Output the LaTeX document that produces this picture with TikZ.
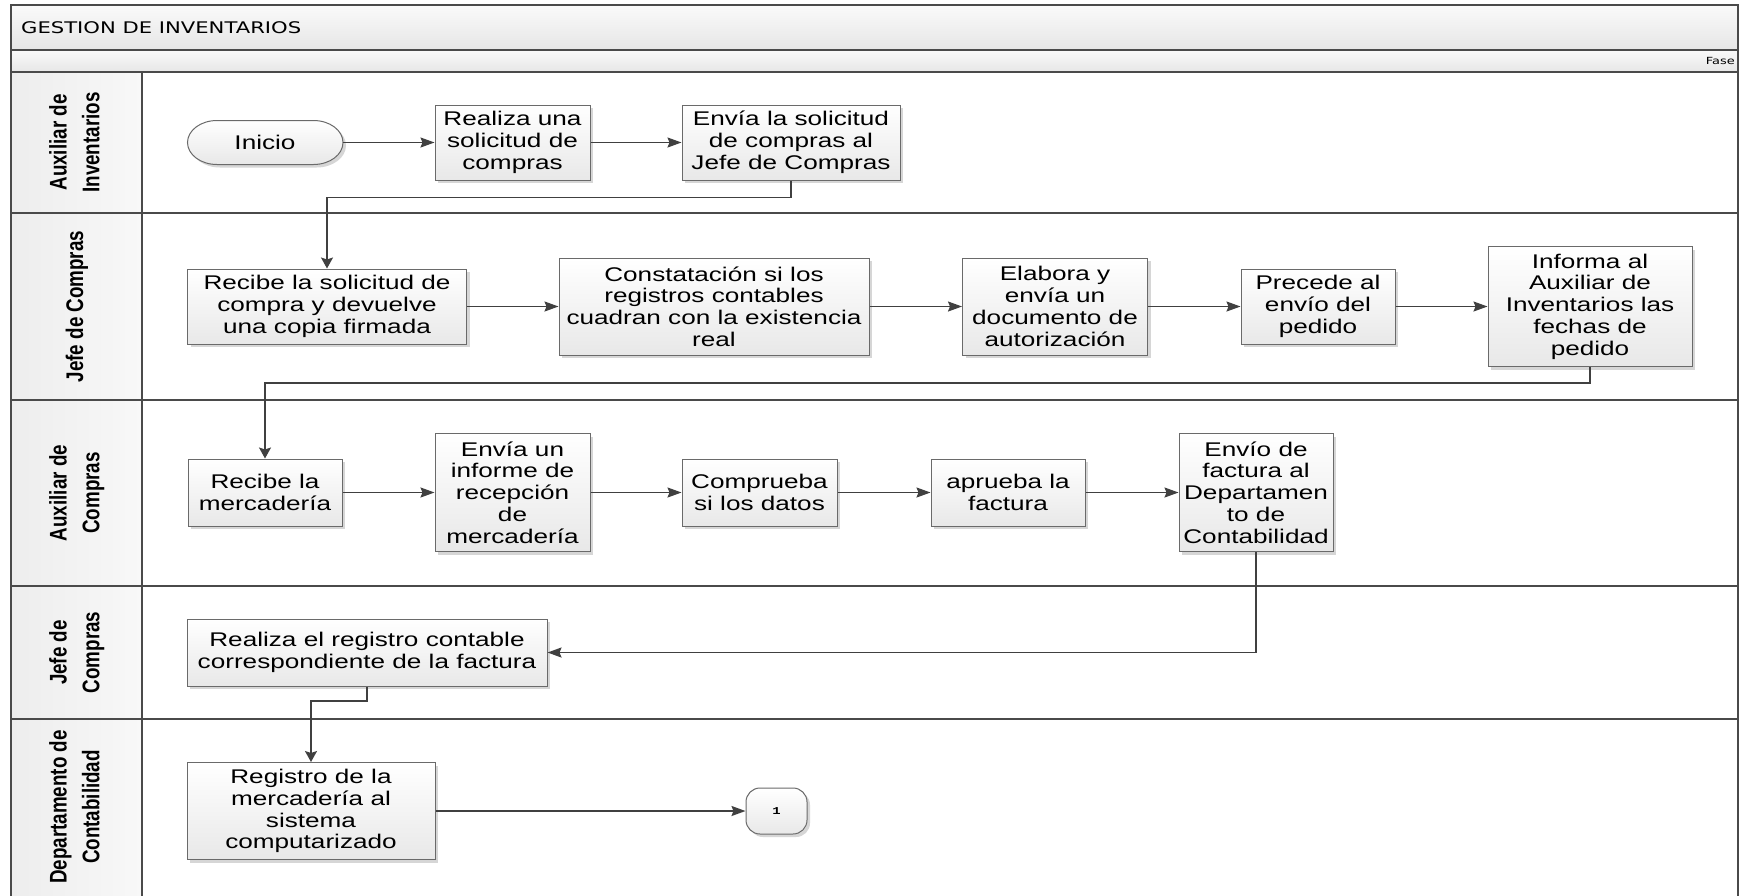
\documentclass[tikz,border=0pt]{standalone}
\usepackage{fontspec}
\usepackage{graphicx}
\setmainfont{Liberation Sans}[FakeStretch=1.32]
\newfontfamily\lanefont{Liberation Sans}
\newfontfamily\titlefont{DejaVu Sans}[FakeStretch=1.32]
\newfontfamily\onefont{Liberation Mono}[FakeStretch=1.32]
\usetikzlibrary{arrows.meta,shadows,calc}
\definecolor{lineC}{HTML}{404040}
\definecolor{frameC}{HTML}{4A4A4A}
\definecolor{boxC}{HTML}{6A6A6A}
\definecolor{barTop}{HTML}{FAFAFA}
\definecolor{barBot}{HTML}{E6E6E6}
\definecolor{boxBot}{HTML}{E8E8E8}
\definecolor{laneL}{HTML}{EDEDED}
\definecolor{laneR}{HTML}{F8F8F8}
\definecolor{shadowC}{HTML}{D6D6D6}
\newcommand{\lanelabel}[1]{\scalebox{1}[1.28]{\lanefont\bfseries\fontsize{18.8}{25.5}\selectfont\begin{tabular}{@{}c@{}}#1\end{tabular}}}
\begin{document}
\begin{tikzpicture}[x=1pt,y=-1pt,
  shapefill/.style={draw=boxC, line width=1pt, top color=white, bottom color=boxBot,
    drop shadow={shadow xshift=3pt, shadow yshift=-3pt, fill=shadowC, opacity=1}},
  box/.style={shapefill, align=center, inner sep=2pt, text=black,
    font=\fontsize{19.8}{21.8}\selectfont},
  txt/.style={align=center, inner sep=0pt, text=black, font=\fontsize{19.8}{21.8}\selectfont},
  flow/.style={draw=lineC, line width=1.6pt},
  harr/.style={flow, -{Stealth[length=14pt,width=10pt,inset=2pt]}},
  varr/.style={flow, -{Stealth[length=11pt,width=12pt,inset=2pt]}},
  lanelbl/.style={rotate=90, inner sep=0pt, text=black},
  frame/.style={draw=frameC, line width=1.6pt}
]
\useasboundingbox (0,0) rectangle (1740,895);
\clip (0,0) rectangle (1740,895);

% ---------- pool frame ----------
\shade[top color=barTop, bottom color=barBot] (11,5) rectangle (1738,50);
\shade[top color=barTop, bottom color=barBot] (11,50) rectangle (1738,72);
\fill[white] (142,72) rectangle (1738,900);
\shade[left color=laneL, right color=laneR] (11,72) rectangle (142,900);
\draw[frame] (11,5) rectangle (1738,900);
\draw[frame] (11,50) -- (1738,50);
\draw[frame] (11,72) -- (1738,72);
\draw[frame] (142,72) -- (142,900);
\foreach \yy in {213,400,586,719} \draw[frame] (11,\yy) -- (1738,\yy);

\node[anchor=west, inner sep=0pt, text=black, font=\titlefont\fontsize{16}{19}\selectfont] (title) at (21,28) {GESTION DE INVENTARIOS};
\node[anchor=east, inner sep=0pt, text=black, font=\titlefont\fontsize{9.8}{11}\selectfont] (fase) at (1735,61) {Fase};

% ---------- lane labels ----------
\node[lanelbl] (lane1) at (76.5,142.5) {\lanelabel{Auxiliar de\\Inventarios}};
\node[lanelbl] (lane2) at (76.5,306.5) {\lanelabel{Jefe de Compras}};
\node[lanelbl] (lane3) at (76.5,493) {\lanelabel{Auxiliar de\\Compras}};
\node[lanelbl] (lane4) at (76.5,652.5) {\lanelabel{Jefe de\\Compras}};
\node[lanelbl] (lane5) at (76.5,807) {\lanelabel{Departamento de\\Contabilidad}};

% ---------- terminator shape ----------
\path[shapefill] (217,120.5) -- (313.5,120.5)
   arc[start angle=-90, end angle=90, x radius=29.5, y radius=22]
   -- (217,164.5)
   arc[start angle=90, end angle=270, x radius=29.5, y radius=22] -- cycle;
\node[txt, minimum width=155pt, minimum height=44pt] (inicio) at (265,142.5) {Inicio};

% ---------- lane 1 ----------
\node[box, minimum width=155pt, minimum height=75pt] (realiza) at (512.5,142.5) {Realiza una\\solicitud de\\compras};
\node[box, minimum width=218pt, minimum height=75pt] (envia) at (791,142.5) {Envía la solicitud\\de compras al\\Jefe de Compras};

% ---------- lane 2 ----------
\node[box, minimum width=279pt, minimum height=75pt] (recibe) at (327,306.5) {Recibe la solicitud de\\compra y devuelve\\una copia firmada};
\node[box, minimum width=310pt, minimum height=97pt] (constat) at (714,306.5) {Constatación si los\\registros contables\\cuadran con la existencia\\real};
\node[box, minimum width=185pt, minimum height=97pt] (elabora) at (1055,306.5) {Elabora y\\envía un\\documento de\\autorización};
\node[box, minimum width=154pt, minimum height=75pt] (precede) at (1318,306.5) {Precede al\\envío del\\pedido};
\node[box, minimum width=204pt, minimum height=120pt] (informa) at (1590,306.5) {Informa al\\Auxiliar de\\Inventarios las\\fechas de\\pedido};

% ---------- lane 3 ----------
\node[box, minimum width=154pt, minimum height=67pt] (recmerc) at (265,492.5) {Recibe la\\mercadería};
\node[box, minimum width=155pt, minimum height=118pt] (envinf) at (512.5,492.5) {Envía un\\informe de\\recepción\\de\\mercadería};
\node[box, minimum width=155pt, minimum height=67pt] (comprueba) at (759.5,492.5) {Comprueba\\si los datos};
\node[box, minimum width=154pt, minimum height=67pt] (aprueba) at (1008,492.5) {aprueba la\\factura};
\node[box, minimum width=154pt, minimum height=118pt] (enviofact) at (1256,492.5) {Envío de\\factura al\\Departamen\\to de\\Contabilidad};

% ---------- lane 4 ----------
\node[box, minimum width=360pt, minimum height=67pt] (regcont) at (367,652.5) {Realiza el registro contable\\correspondiente de la factura};

% ---------- lane 5 ----------
\node[box, minimum width=248pt, minimum height=97pt] (registro) at (311,811) {Registro de la\\mercadería al\\sistema\\computarizado};
\node[box, rounded corners=14pt, minimum width=61pt, minimum height=46pt, font=\onefont\bfseries\fontsize{10.5}{12}\selectfont] (conn1) at (776.5,811) {1};

% ---------- connectors ----------
\coordinate (j1) at (791,197.5);
\coordinate (j2) at (1590,383);
\coordinate (j3) at (367,701);
\draw[harr] (inicio) -- (realiza);
\draw[harr] (realiza) -- (envia);
\draw[varr] (envia.south) -- (j1) -| (recibe.north);
\draw[harr] (recibe) -- (constat);
\draw[harr] (constat) -- (elabora);
\draw[harr] (elabora) -- (precede);
\draw[harr] (precede) -- (informa);
\draw[varr] (informa.south) -- (j2) -| (recmerc.north);
\draw[harr] (recmerc) -- (envinf);
\draw[harr] (envinf) -- (comprueba);
\draw[harr] (comprueba) -- (aprueba);
\draw[harr] (aprueba) -- (enviofact);
\draw[harr] (enviofact.south) |- (regcont.east);
\draw[varr] (regcont.south) -- (j3) -| (registro.north);
\draw[harr] (registro) -- (conn1);
\end{tikzpicture}
\end{document}
